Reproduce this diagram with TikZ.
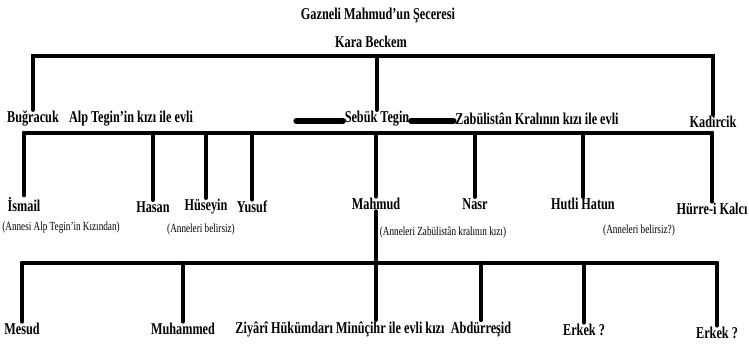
\documentclass[tikz,border=0pt]{standalone}
\usepackage{fontspec}
\setmainfont{Liberation Serif}[FakeStretch=0.74]
\usetikzlibrary{positioning}

\begin{document}
\begin{tikzpicture}[
    x=0.75pt,y=-0.75pt,
    person/.style={font=\bfseries\fontsize{12.4}{14}\selectfont,inner sep=1pt},
    remark/.style={font=\fontsize{9.3}{11}\selectfont,inner sep=0pt},
    branch/.style={line width=3.2pt,line cap=round},
    wedding/.style={line width=4pt,line cap=round}
    ]
   \useasboundingbox (0,0) rectangle (749,345);

   \node(title) [person] at (378,15) {Gazneli Mahmud'un Şeceresi};
   \node(kara) [person] at (371,42) {Kara Beckem};

   % second row
   \node(bugracuk) [person] at (33,119) {Buğracuk};
   \node(alpkizi) [person] at (131,119) {Alp Tegin'in kızı ile evli};
   \node(sebuk) [person] at (377,119) {Sebük Tegin};
   \node(zabul) [person] at (537,119) {Zabülistân Kralının kızı ile evli};
   \node(kadircik) [person] at (713,122) {Kadircik};

   % children of Sebuk Tegin
   \node(ismail) [person] at (24,204) {İsmail};
   \node(hasan) [person] at (153,207) {Hasan};
   \node(huseyin) [person] at (206,207) {Hüseyin};
   \node(yusuf) [person] at (252,207) {Yusuf};
   \node(mahmud) [person] at (376,204) {Mahmud};
   \node(nasr) [person] at (475,204) {Nasr};
   \node(hutli) [person] at (583,204) {Hutli Hatun};
   \node(hurre) [person] at (712,209) {Hürre-i Kalcı};

   \node(ismailnote) [remark] at (61,228) {(Annesi Alp Tegin'in Kızından)};
   \node(hasannote) [remark] at (201,230) {(Anneleri belirsiz)};
   \node(mahmudnote) [remark] at (443,233) {(Anneleri Zabülistân kralının kızı)};
   \node(hutlinote) [remark] at (639,231) {(Anneleri belirsiz?)};

   % children of Mahmud
   \node(mesud) [person] at (22,329) {Mesud};
   \node(muhammed) [person] at (183,329) {Muhammed};
   \node(ziyari) [person] at (340,329) {Ziyârî Hükümdarı Minûçihr ile evli kızı};
   \node(abdurresid) [person] at (481,329) {Abdürreşid};
   \node(erkeka) [person] at (584,330) {Erkek ?};
   \node(erkekb) [person] at (717,333) {Erkek ?};

   \coordinate (bar1) at (0,56);
   \coordinate (bar2) at (0,133);
   \coordinate (bar3) at (0,263);
   \coordinate (w1) at (296,121);

   \draw[branch] (bugracuk.north) -- (bugracuk.north |- bar1) -- (kadircik.north |- bar1) -- (kadircik.north);
   \draw[branch] (sebuk.north |- bar1) -- (sebuk.north);

   \draw[wedding] (w1) -- (w1 -| sebuk.west);
   \draw[wedding] (w1 -| sebuk.east) -- (w1 -| zabul.west);

   \draw[branch] (ismail.north |- bar2) -- (hurre.north |- bar2);
   \foreach \n in {ismail,hasan,huseyin,yusuf,mahmud,nasr,hutli,hurre} {
   	\draw[branch] (\n.north |- bar2) -- (\n.north);
   }

   \draw[branch] (mesud.north |- bar3) -- (erkekb.north |- bar3);
   \foreach \n in {mesud,muhammed,abdurresid,erkeka,erkekb} {
   	\draw[branch] (\n.north |- bar3) -- (\n.north);
   }
   \draw[branch] (mahmud.south) -- (ziyari.north -| mahmud);

\end{tikzpicture}
\end{document}
